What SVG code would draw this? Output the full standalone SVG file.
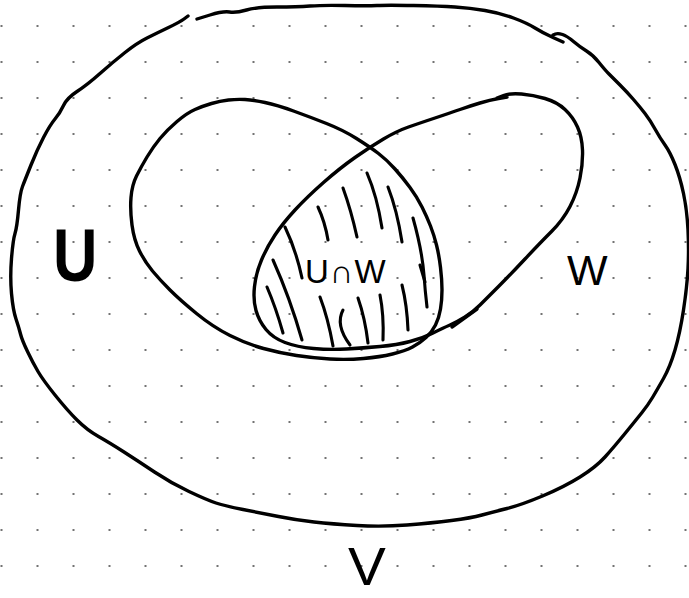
<svg xmlns="http://www.w3.org/2000/svg" width="689" height="598" viewBox="0 0 689 598">
<style>
.ink{fill:none;stroke:#000;stroke-width:3.4;stroke-linecap:round;stroke-linejoin:round}
.hatch{fill:none;stroke:#000;stroke-width:3.1;stroke-linecap:round}
.lbl{font-family:"Liberation Sans",Arial,sans-serif;fill:#000}
</style>
<defs>
<pattern id="grid" x="-16.5" y="8" width="36" height="36" patternUnits="userSpaceOnUse">
<circle cx="18" cy="18" r="1" fill="#444"/>
</pattern>
</defs>
<rect width="689" height="598" fill="#fff"/>
<rect width="689" height="598" fill="url(#grid)"/>

<g id="V">
<path class="ink" d="M197,19 L210,15 Q223,11 229.5,12 Q236,13 246.5,10 Q257,7 277,7 Q297,7 310,6 Q323,5 345,5.5 Q367,6 377,5.5 Q387,5 413.5,5.5 Q440,6 455,7 Q470,8 485,10.5 Q500,13 513.5,18 Q527,23 535,28 Q543,33 553,37.5 L563,42"/>
<path class="ink" d="M553,35 L555.5,34 Q558,33 562.5,34.5 Q567,36 573.5,41.5 Q580,47 586.5,51 Q593,55 599,62.5 Q605,70 609,74 Q613,78 620,85 Q627,92 633.5,99.5 Q640,107 645,113.5 Q650,120 655,129 Q660,138 665,145 Q670,152 675,164.5 Q680,177 683.5,193.5 Q687,210 688,230 Q689,250 688,268.5 Q687,287 683.5,310 Q680,333 675,350 Q670,367 663.5,378.5 Q657,390 652.5,397.5 Q648,405 642,412.5 Q636,420 625,433.5 Q614,447 605,457 Q596,467 580,477 Q564,487 542.5,496 Q521,505 507,508.5 Q493,512 482,515 Q471,518 451.5,520.5 Q432,523 407,525 Q382,527 357,525.5 Q332,524 314,522 Q296,520 278.5,516.5 Q261,513 243,509.5 Q225,506 216,503 Q207,500 189,491.5 Q171,483 154.5,472 Q138,461 124,452 Q110,443 98.5,436.5 Q87,430 77,420 Q67,410 55,395 Q43,380 38,371.5 Q33,363 27.5,351.5 Q22,340 20.5,334 Q19,328 16,319 Q13,310 11.5,293.5 Q10,277 11.5,258.5 Q13,240 15,233.5 Q17,227 18.5,210 Q20,193 22.5,186.5 Q25,180 31,165 Q37,150 43.5,137.5 Q50,125 55,119 Q60,113 63.5,105.5 Q67,98 77,91.5 Q87,85 100,73.5 Q113,62 125,52.5 Q137,43 147,38 Q157,33 168.5,27.5 Q180,22 184,19 L188,16"/>
<text class="lbl" font-size="54" transform="translate(348,585) scale(1.05,1)">V</text>
</g>

<g id="U">
<path class="ink" d="M132,225 Q130,210 131,197.5 Q132,185 136.5,176 Q141,167 147,157 Q153,147 160,138.5 Q167,130 177,121.5 Q187,113 195,109.5 Q203,106 211.5,103.5 Q220,101 228.5,100 Q237,99 245,99.5 Q253,100 265,102.5 Q277,105 293.5,111 Q310,117 326.5,123.5 Q343,130 356.5,138.5 Q370,147 378.5,153.5 Q387,160 395,169 Q403,178 410,187.5 Q417,197 422,207 Q427,217 430.5,226 Q434,235 436.5,245 Q439,255 440.5,267.5 Q442,280 442,290 Q442,300 440.5,309 Q439,318 435.5,325 Q432,332 426,337.5 Q420,343 412.5,347 Q405,351 392.5,354 Q380,357 363.5,358.5 Q347,360 330,359 Q313,358 296.5,355.5 Q280,353 263.5,348.5 Q247,344 230,335.5 Q213,327 196.5,313.5 Q180,300 170,290 Q160,280 152.5,271 Q145,262 139.5,251 Q134,240 132,225 Z"/>
<text class="lbl" font-size="75" font-weight="bold" transform="translate(53,281) scale(0.82,1)">U</text>
</g>

<g id="W">
<path class="ink" d="M497,98 L503.5,95.5 Q510,93 521.5,94 Q533,95 545,98.5 Q557,102 565,109.5 Q573,117 577.5,127 Q582,137 582.5,150 Q583,163 580,178 Q577,193 570,206.5 Q563,220 551.5,231.5 Q540,243 525,259 Q510,275 498.5,286.5 Q487,298 480,305 Q473,312 465,317 Q457,322 450,325 Q443,328 433,333 Q423,338 410,341.5 Q397,345 380,346.5 Q363,348 346.5,349 Q330,350 313.5,348.5 Q297,347 285,342.5 Q273,338 266,329.5 Q259,321 256,310.5 Q253,300 254.5,286.5 Q256,273 261.5,260 Q267,247 275,235 Q283,223 295,210 Q307,197 323.5,182.5 Q340,168 355,157.5 Q370,147 383.5,139 Q397,131 408.5,127 Q420,123 435,118 Q450,113 460,109.5 Q470,106 480,103 Q490,100 498.5,98.5 L507,97"/>
<path class="ink" d="M452,327 L477,309"/>
<text class="lbl" x="567" y="285" font-size="43">W</text>
</g>

<g id="UnW">
<path class="hatch" d="M367,173 Q377,196 382,228"/>
<path class="hatch" d="M343,188 Q351,210 357,237"/>
<path class="hatch" d="M388,187 Q397,210 402,242"/>
<path class="hatch" d="M318,207 Q325,222 328,240"/>
<path class="hatch" d="M413,218 Q422,250 424,275 Q425,290 427,307"/>
<path class="hatch" d="M420,265 L425,282"/>
<path class="hatch" d="M285,227 Q296,250 302,278"/>
<path class="hatch" d="M273,260 Q290,298 302,340"/>
<path class="hatch" d="M267,287 Q276,308 283,333"/>
<path class="hatch" d="M320,297 Q328,318 333,346"/>
<path class="hatch" d="M343,310 Q335,325 350,345"/>
<path class="hatch" d="M358,298 Q365,318 368,343"/>
<path class="hatch" d="M380,295 Q384,315 383,340"/>
<path class="hatch" d="M402,285 Q407,305 408,330"/>
<text class="lbl" x="305" y="283" font-size="33" letter-spacing="1">U∩W</text>
</g>
</svg>
